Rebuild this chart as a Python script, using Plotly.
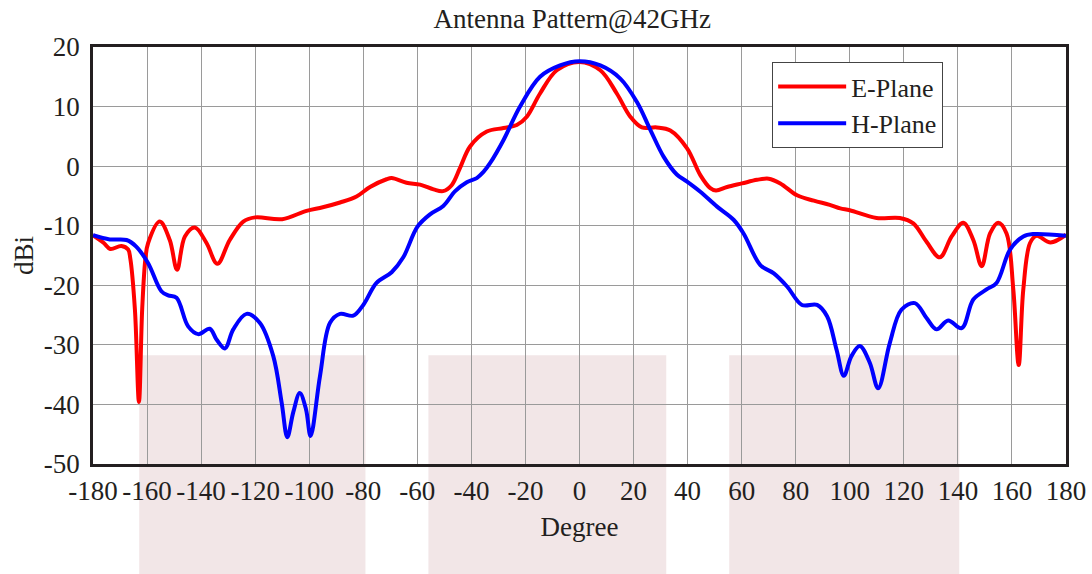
import plotly.graph_objects as go

# E-Plane pattern (degree, dBi)
e_deg = [-180, -176, -173.6, -169.5, -167, -166.2, -164.5, -163, -161.8, -160.6, -159.6, -155.3, -151.6,
         -148.9, -146, -142.3, -138, -134, -129.4, -124.4, -120, -110, -101, -95, -88.6, -82.5,
         -77.5, -71.4, -69.5, -64, -59, -54, -50.5, -47.3, -44.2, -40.5, -34.3, -28.1, -23.2,
         -19.5, -14.6, -8.4, 0, 7.7, 13.8, 18.8, 23.1, 28.6, 33.6, 39.8, 44.7, 48.4, 50.5,
         54.6, 60.1, 65.7, 70, 74.3, 80.5, 86.7, 92.6, 96.5, 100, 109.9, 118.5, 123.5, 128.4,
         133.3, 137.7, 142, 145.7, 148.8, 151.9, 154.9, 158, 160.5, 162.5, 164.2, 166.7,
         169.1, 174.3, 180]
e_db = [-11.6, -12.9, -13.9, -13.4, -14.0, -15.5, -24.0, -39.6, -24.0, -15.5, -12.9, -9.3, -12.4,
        -17.4, -11.8, -10.3, -12.9, -16.4, -12.4, -9.3, -8.6, -8.9, -7.5, -6.9, -6.1, -5.1,
        -3.5, -2.2, -2.0, -2.8, -3.1, -3.9, -4.2, -3.2, -0.3, 3.3, 5.8, 6.4, 6.9,
        8.3, 12.2, 16.1, 17.5, 16.1, 12.2, 8.3, 6.5, 6.5, 6.0, 3.0, -1.5, -3.7, -4.1,
        -3.5, -2.9, -2.3, -2.1, -2.9, -4.9, -5.8, -6.5, -7.1, -7.4, -8.7, -8.7, -9.6, -12.7,
        -15.3, -11.8, -9.5, -12.4, -16.8, -11.3, -9.5, -11.3, -20.7, -33.4, -20.7, -12.9,
        -11.7, -12.8, -11.5]

# H-Plane pattern (degree, dBi)
h_deg = [-180, -173.8, -167.6, -164, -159.6, -154.7, -152.2, -149.1, -144.8, -141.1, -136.8,
         -134.3, -131.2, -128.1, -123.2, -118.3, -113.3, -110.2, -108.1, -105.9, -103.5,
         -101.2, -99.5, -96, -92.3, -88.6, -83.7, -80, -75.1, -69.5, -65.2, -60, -55.3,
         -50.4, -46, -41.7, -38, -35.6, -33.1, -28.1, -22, -14.6, -7.2, 0, 7.7, 15.1, 21.2,
         26.2, 31.1, 36, 39.8, 44.7, 50.9, 57, 60.7, 66.9, 71.9, 76.8, 82.3, 87.9, 91.6,
         95.1, 97.8, 100.6, 103.7, 107.4, 110.5, 114.8, 119.1, 124.1, 128.4, 132.1, 136.4,
         141.4, 145.7, 150.6, 154.3, 159.3, 164.2, 167.9, 180]
h_db = [-11.6, -12.3, -12.4, -13.5, -16.3, -21.0, -21.7, -22.1, -26.9, -28.2, -27.3,
        -29.1, -30.6, -27.4, -24.8, -26.3, -31.9, -39.7, -45.5, -41.3, -38.1,
        -40.8, -45.3, -35.2, -26.3, -24.8, -25.1, -23.3, -19.6, -17.8, -15.3, -10.2, -8.1,
        -6.7, -4.2, -2.7, -2.0, -1.0, 0.5, 4.4, 10.0, 15.0, 16.9, 17.6, 16.9, 14.7, 10.8,
        6.1, 1.6, -1.4, -2.6, -4.3, -6.8, -9.0, -11.3, -16.6, -18.0, -20.2, -23.3, -23.3, -25.2,
        -30.8, -35.2, -31.9, -30.2, -33.0, -37.3, -29.7, -24.1, -23.0, -25.5, -27.4, -25.9,
        -27.2, -22.4, -20.7, -19.6, -14.0, -11.8, -11.4, -11.7]

x_ticks = list(range(-180, 181, 20))
y_ticks = list(range(-50, 21, 10))

# shaded bands (degree ranges)
band_starts = [-162.9, -55.9, 55.4]
band_ends = [-79.2, 32.1, 140.5]

FONT = "Liberation Serif, Times New Roman, serif"
TXT = "#231f20"

fig = go.Figure()
fig.add_trace(go.Scatter(x=e_deg, y=e_db, mode="lines", name="E-Plane",
                         line=dict(color="#ff0000", width=4, shape="spline", smoothing=1.0)))
fig.add_trace(go.Scatter(x=h_deg, y=h_db, mode="lines", name="H-Plane",
                         line=dict(color="#0000ff", width=4, shape="spline", smoothing=1.0)))

for s, e in zip(band_starts, band_ends):
    fig.add_shape(type="rect", xref="x", yref="paper", x0=s, x1=e, y0=-0.264, y1=0.261,
                  fillcolor="#f2e6e7", line=dict(width=0), layer="below")

fig.update_layout(
    width=1092, height=574,
    margin=dict(l=93, r=26, t=47, b=110, autoexpand=False),
    paper_bgcolor="white", plot_bgcolor="white",
    font=dict(family=FONT, size=28, color=TXT),
    title=dict(text="Antenna Pattern@42GHz", x=0.524, xanchor="center", y=0.967, yanchor="middle",
               xref="container", yref="container", automargin=False,
               font=dict(family=FONT, size=27, color=TXT)),
    showlegend=True,
    legend=dict(x=0.698, y=0.964, xanchor="left", yanchor="top", bgcolor="white",
                bordercolor="#444444", borderwidth=1, itemwidth=68,
                font=dict(family=FONT, size=26, color=TXT), tracegroupgap=0),
    xaxis=dict(range=[-180, 180], tickmode="array", tickvals=x_ticks,
               ticktext=[str(v) for v in x_ticks], showgrid=True, gridcolor="#9a9a9a", gridwidth=1,
               zeroline=False, showline=True, linecolor="#231f20", linewidth=2.5, mirror=True,
               ticks="", ticklabelstandoff=1, automargin=False,
               tickfont=dict(family=FONT, size=27, color=TXT),
               title=dict(text="Degree", standoff=12, font=dict(family=FONT, size=27, color=TXT))),
    yaxis=dict(range=[-50, 20], tickmode="array", tickvals=y_ticks,
               ticktext=[str(v) for v in y_ticks],
               showgrid=True, gridcolor="#9a9a9a", gridwidth=1,
               zeroline=False, showline=True, linecolor="#231f20", linewidth=2.5, mirror=True,
               ticks="", ticklabelstandoff=5, automargin=False,
               tickfont=dict(family=FONT, size=27, color=TXT),
               title=dict(text="dBi", standoff=3, font=dict(family=FONT, size=27, color=TXT))),
)

fig.write_html("out.html", config={"displayModeBar": False},
               post_script="document.body.style.margin='0px';")
